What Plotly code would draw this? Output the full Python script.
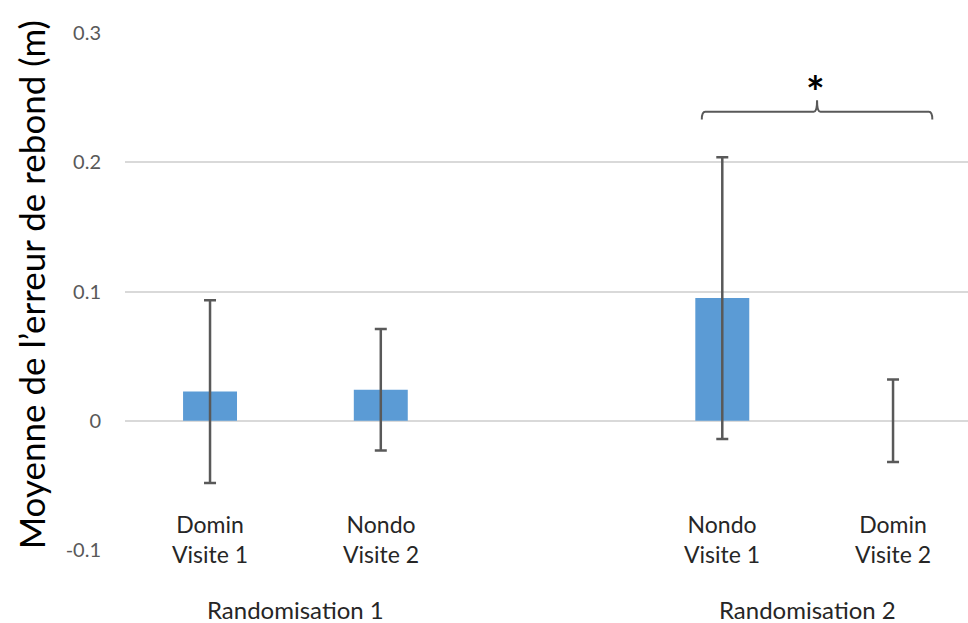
import plotly.graph_objects as go

# ---- data ----
positions = [0, 1, 3, 4]                      # slot 2 is an empty gap between groups
line1 = ["Domin", "Nondo", "Nondo", "Domin"]
line2 = ["Visite 1", "Visite 2", "Visite 1", "Visite 2"]
means = [0.0226, 0.0239, 0.0949, 0.0]
errors = [0.0707, 0.047, 0.109, 0.032]
group_labels = ["Randomisation 1", "Randomisation 2"]
group_centers = [0.5, 3.5]
y_ticks = [-0.1, 0, 0.1, 0.2, 0.3]
y_ticktext = ["-0.1", "0", "0.1", "0.2", "0.3"]

FONT = "Lato"
GRAY = "#595959"

fig = go.Figure()
fig.add_trace(go.Bar(
    x=positions, y=means, width=0.316,
    marker=dict(color="#5B9BD5", line=dict(width=0)),
    error_y=dict(type="data", array=errors, symmetric=True,
                 color=GRAY, thickness=2.5, width=6),
    showlegend=False, hoverinfo="skip",
))

fig.update_layout(
    width=968, height=623,
    margin=dict(l=125, r=0, t=33, b=73),
    paper_bgcolor="white", plot_bgcolor="white",
    font=dict(family=FONT, color="black"),
    xaxis=dict(range=[-0.498, 4.439], showticklabels=False, showgrid=False,
               zeroline=False, showline=False, ticks=""),
    yaxis=dict(range=[-0.1, 0.3], tickvals=y_ticks, ticktext=y_ticktext,
               showgrid=True, gridcolor="#D9D9D9", gridwidth=2,
               zeroline=True, zerolinecolor="#D9D9D9", zerolinewidth=2,
               showline=False, ticks="outside", ticklen=19, tickcolor="rgba(0,0,0,0)",
               tickfont=dict(family=FONT, size=20, color=GRAY)),
)

# y axis title
fig.add_annotation(text="Moyenne de l\u2019erreur de rebond (m)", textangle=-90,
                   xref="paper", yref="paper", x=-0.112, y=0.513,
                   xanchor="center", yanchor="middle", showarrow=False,
                   font=dict(family=FONT, size=35, color="black"))

# category labels
for p, a, b in zip(positions, line1, line2):
    fig.add_annotation(text=a + "<br>" + b, x=p, xref="x", yref="paper", y=0.0213,
                       xanchor="center", yanchor="middle", showarrow=False,
                       font=dict(family=FONT, size=23, color="#262626"))

# group labels
for c, g in zip(group_centers, group_labels):
    fig.add_annotation(text=g, x=c, xref="x", yref="paper", y=-0.116,
                       xanchor="center", yanchor="middle", showarrow=False,
                       font=dict(family=FONT, size=24, color="#262626"))

# significance bracket between Randomisation 2 bars
bx0, bx1 = positions[2] - 0.12, positions[3] + 0.23
by, bdrop, btop = 0.239, 0.233, 0.248
bmid = (bx0 + bx1) / 2
r = 0.02
path = (f"M {bx0},{bdrop} Q {bx0},{by} {bx0 + r},{by} L {bmid - 0.02},{by} "
        f"Q {bmid},{by} {bmid},{btop} Q {bmid},{by} {bmid + 0.02},{by} "
        f"L {bx1 - r},{by} Q {bx1},{by} {bx1},{bdrop}")
fig.add_shape(type="path", path=path, xref="x", yref="y",
              line=dict(color=GRAY, width=2))
fig.add_annotation(text="<b>*</b>", x=bmid - 0.01, y=0.2555, xref="x", yref="y",
                   showarrow=False, xanchor="center", yanchor="middle",
                   font=dict(family=FONT, size=44, color="black"))

fig.write_html("out.html", config={"displayModeBar": False},
               post_script="document.body.style.margin='0';document.body.style.overflow='hidden';")
